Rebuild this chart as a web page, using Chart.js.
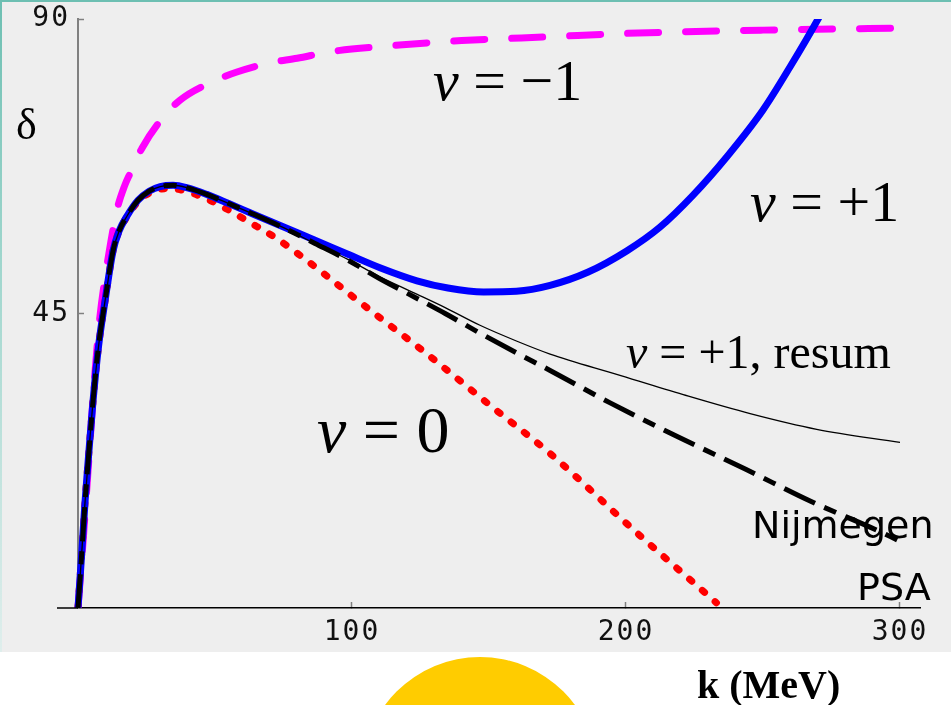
<!DOCTYPE html>
<html>
<head>
<meta charset="utf-8">
<title>Phase shift vs k</title>
<script src="https://cdn.jsdelivr.net/npm/chart.js@4.4.1/dist/chart.umd.min.js"></script>
<style>
    html, body { margin: 0; padding: 0; background: #fff; }
    #wrap { position: relative; width: 951px; height: 705px; overflow: hidden; background: #fff; }
    #panel {
        position: absolute; left: 0; top: 0; width: 951px; height: 652px;
        background: #eeeeee;
        border-top: 2px solid #6dbfb2;
        box-sizing: border-box;
    }
    #edge {
        position: absolute; left: 0; top: 0; width: 2px; height: 652px;
        background: linear-gradient(#6dbfb2, #9fd6cd 40%, #dfeeec 100%);
    }
    #sun {
        position: absolute; left: 362px; top: 657px; width: 236px; height: 236px;
        border-radius: 50%; background: #ffcc00;
    }
    canvas { position: absolute; left: 0; top: 0; }
</style>
</head>
<body>
<div id="wrap">
    <div id="panel"></div>
    <div id="edge"></div>
    <div id="sun"></div>
    <canvas id="chart" width="951" height="705"></canvas>
</div>
<script>
// === Données (k en MeV, delta en degrés) ===
const xTicks = [100, 200, 300];
const yTicks = [45, 90];

// Nijmegen PSA (tirets noirs)
const kPSA = [0, 1.3, 2.6, 4, 5.5, 7.5, 9.9, 12.8, 15, 17.9, 21.9, 26, 30, 34.7, 40, 47, 55, 62.8, 74, 86.5, 98.3, 110.2, 122.4, 134, 146.7, 160, 172.3, 194.4, 218.7, 243.7, 267.4, 292, 299];
const dPSA = [0, 8, 16.4, 24, 31.7, 40, 47, 54.6, 57.6, 59.9, 62.3, 63.7, 64.4, 64.6, 64.2, 63.2, 61.8, 60.4, 58.3, 55.7, 53.2, 50.3, 47.6, 45.0, 42.0, 39.0, 36.3, 31.3, 26.2, 21.2, 16.3, 11.8, 10.4];

// nu = +1, resum (trait fin)
const kResum = [0, 1.3, 2.6, 4, 5.5, 7.5, 9.9, 12.8, 15, 17.9, 21.9, 26, 30, 34.7, 40, 47, 55, 62.8, 74, 86.5, 98.3, 110.2, 122.4, 134, 146.7, 160, 172.3, 196.6, 220.9, 245.3, 269.6, 300];
const dResum = [0, 8, 16.4, 24, 31.7, 40, 47, 54.6, 57.6, 59.9, 62.3, 63.7, 64.4, 64.6, 64.2, 63.2, 61.8, 60.4, 58.3, 55.7, 53.3, 50.6, 48.2, 45.9, 43.2, 40.8, 38.8, 35.7, 32.6, 29.7, 27.3, 25.3];

// nu = +1 (bleu)
const kNu1 = [0, 1.3, 2.6, 4, 5.5, 7.5, 9.9, 12.8, 15, 17.9, 21.9, 26, 30, 34.7, 40, 47, 55, 62.8, 74, 86.5, 98.3, 110.2, 123.7, 135, 148, 160, 172.3, 186, 200.4, 212.4, 224.5, 236.9, 250, 259.9, 270.1, 272];
const dNu1 = [0, 8, 16.4, 24, 31.7, 40, 47, 54.6, 57.6, 59.9, 62.3, 63.7, 64.4, 64.6, 64.2, 63.2, 61.8, 60.4, 58.4, 56.2, 54.1, 52.0, 50.0, 48.9, 48.3, 48.4, 49.3, 51.3, 54.6, 58.2, 63.1, 69.0, 76.1, 82.7, 90, 91.5];

// nu = 0 (pointillés rouges)
const kNu0 = [0, 1.3, 2.6, 4, 5.5, 7.5, 9.9, 12.8, 15, 17.9, 21.9, 26, 30, 34, 40, 47, 55, 62.8, 72, 81, 90, 99.3, 111.3, 125.9, 150, 172.3, 202.6, 218, 233];
const dNu0 = [0, 8, 16.4, 24, 31.7, 40, 47, 54.6, 57.6, 59.8, 62.1, 63.4, 64.0, 64.1, 63.6, 62.5, 60.8, 58.9, 56.6, 53.9, 51.0, 47.9, 44.0, 39.3, 31.1, 23.6, 12.0, 6.3, 0.8];

// nu = -1 (tirets magenta)
const kNuM1 = [0, 2, 4, 6, 8, 9.9, 12, 14.2, 17, 19, 23.4, 30.7, 37.2, 48.9, 58, 70, 80, 92, 113.9, 140, 173, 200, 250, 300];
const dNuM1 = [0, 11, 23, 35, 44.5, 50.5, 56, 60.8, 64.5, 66.4, 70.3, 74.8, 77.6, 80.4, 81.9, 83.3, 84.0, 85.0, 85.9, 86.7, 87.3, 87.8, 88.3, 88.6];

const pts = (ks, ds) => ks.map((k, i) => ({ x: k, y: ds[i] }));

const serif = '"Liberation Serif", "Times New Roman", serif';
const mono = '"DejaVu Sans Mono", monospace';

function mathLabel(ctx, x, y, size, rest) {
    ctx.font = `italic ${size}px ${serif}`;
    ctx.fillText('\u03BD', x, y);
    const w = ctx.measureText('\u03BD').width;
    ctx.font = `${size}px ${serif}`;
    ctx.fillText(rest, x + w, y);
}

// === Textes et petits détails d'axes ===
const notes = {
    id: 'notes',
    beforeDraw(chart) { chart.ctx.letterSpacing = '2px'; },
    beforeDatasetsDraw(chart) { chart.ctx.letterSpacing = '0px'; },
    afterDraw(chart) {
        const ctx = chart.ctx;
        const area = chart.chartArea;
        ctx.save();
        ctx.letterSpacing = '0px';

        // prolongement de l'axe des k à gauche
        ctx.strokeStyle = '#000';
        ctx.lineWidth = 1.5;
        ctx.beginPath();
        ctx.moveTo(57, area.bottom);
        ctx.lineTo(area.left, area.bottom);
        ctx.stroke();

        ctx.fillStyle = '#000';
        ctx.textBaseline = 'alphabetic';
        ctx.textAlign = 'left';

        ctx.font = `44px ${serif}`;
        ctx.fillText('\u03B4', 16, 139);

        mathLabel(ctx, 433, 100, 58, ' = \u22121');
        mathLabel(ctx, 750, 221, 58, ' = +1');
        mathLabel(ctx, 626, 368, 48, ' = +1, resum');
        mathLabel(ctx, 317, 452, 66, ' = 0');

        ctx.font = `38px "DejaVu Sans", sans-serif`;
        ctx.fillText('Nijmegen', 752, 538);
        ctx.fillText('PSA', 857, 600);

        ctx.font = `bold 40px ${serif}`;
        ctx.fillText('k (MeV)', 697, 698);
        ctx.restore();
    }
};

document.addEventListener('DOMContentLoaded', () => {
    const tickFont = { family: mono, size: 28 };

    new Chart(document.getElementById('chart'), {
        type: 'line',
        data: {
            datasets: [
                {
                    label: 'Nijmegen PSA',
                    data: pts(kPSA, dPSA),
                    borderColor: '#000',
                    borderWidth: 5,
                    borderDash: [34, 10, 13, 10],
                    borderCapStyle: 'butt'
                },
                {
                    label: 'nu = +1, resum',
                    data: pts(kResum, dResum),
                    borderColor: '#000',
                    borderWidth: 1.3
                },
                {
                    label: 'nu = +1',
                    data: pts(kNu1, dNu1),
                    borderColor: '#0000ff',
                    borderWidth: 7
                },
                {
                    label: 'nu = 0',
                    data: pts(kNu0, dNu0),
                    borderColor: '#ff0000',
                    borderWidth: 7,
                    borderDash: [3, 14],
                    borderCapStyle: 'round'
                },
                {
                    label: 'nu = -1',
                    data: pts(kNuM1, dNuM1),
                    borderColor: '#ff00ff',
                    borderWidth: 7,
                    borderDash: [31, 27],
                    borderCapStyle: 'round'
                }
            ]
        },
        options: {
            responsive: false,
            animation: false,
            devicePixelRatio: 1,
            layout: { padding: { left: 0, top: 19, right: 31, bottom: 0 } },
            elements: {
                point: { radius: 0, hoverRadius: 0 },
                line: { cubicInterpolationMode: 'monotone', fill: false }
            },
            datasets: {
                line: { clip: { left: 6, top: 0, right: 10, bottom: 0 } }
            },
            plugins: {
                legend: { display: false },
                tooltip: { enabled: false }
            },
            scales: {
                x: {
                    type: 'linear',
                    min: 0,
                    max: 307.3,
                    afterBuildTicks: s => { s.ticks = xTicks.map(v => ({ value: v })); },
                    afterFit: s => { s.height = 97; s.paddingLeft = 0; s.paddingRight = 0; },
                    border: { color: '#000', width: 1.5 },
                    grid: { drawOnChartArea: false, tickLength: -6, tickColor: '#808080', tickWidth: 1.5 },
                    ticks: { padding: 14, font: tickFont, color: '#111', maxRotation: 0 }
                },
                y: {
                    min: 0,
                    max: 90,
                    afterBuildTicks: s => { s.ticks = yTicks.map(v => ({ value: v })); },
                    afterFit: s => { s.width = 78; s.paddingTop = 0; s.paddingBottom = 0; },
                    border: { color: '#808080', width: 2 },
                    grid: { drawOnChartArea: false, tickLength: -6, tickColor: '#808080', tickWidth: 1.5 },
                    ticks: { padding: 14, font: tickFont, color: '#111' }
                }
            }
        },
        plugins: [notes]
    });
});
</script>
</body>
</html>
